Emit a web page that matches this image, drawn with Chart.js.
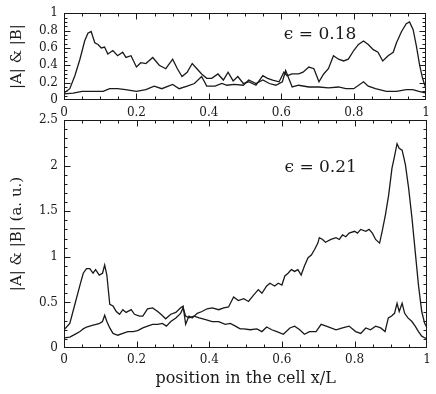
<!DOCTYPE html>
<html>
<head>
<meta charset="utf-8">
<script src="https://cdn.jsdelivr.net/npm/chart.js@4.4.1/dist/chart.umd.min.js"></script>
<style>
  html, body { margin: 0; padding: 0; background: #fff; }
  body { width: 436px; height: 394px; position: relative; overflow: hidden; }
  #wrapTop { position: absolute; left: 0; top: 0; width: 436px; height: 118px; }
  #wrapBot { position: absolute; left: 0; top: 104px; width: 436px; height: 290px; }
</style>
</head>
<body>
<div id="wrapTop"><canvas id="top"></canvas></div>
<div id="wrapBot"><canvas id="bot"></canvas></div>
<script>
// epsilon = 0.18 (upper panel)
const topAx = [0, 0.016, 0.03, 0.044, 0.057, 0.066, 0.075, 0.085, 0.094, 0.103, 0.112, 0.121, 0.135, 0.148, 0.162, 0.171, 0.185, 0.2, 0.212, 0.226, 0.245, 0.263, 0.281, 0.3, 0.313, 0.326, 0.34, 0.354, 0.367, 0.38, 0.394, 0.408, 0.425, 0.44, 0.453, 0.467, 0.48, 0.495, 0.51, 0.53, 0.549, 0.562, 0.576, 0.594, 0.607, 0.616, 0.63, 0.648, 0.66, 0.676, 0.69, 0.704, 0.717, 0.73, 0.744, 0.758, 0.772, 0.785, 0.8, 0.813, 0.827, 0.84, 0.854, 0.867, 0.88, 0.895, 0.909, 0.918, 0.932, 0.945, 0.954, 0.964, 0.973, 0.982, 0.99, 1];
const topAy = [0.08, 0.13, 0.28, 0.47, 0.68, 0.77, 0.79, 0.66, 0.64, 0.60, 0.61, 0.53, 0.57, 0.51, 0.55, 0.49, 0.51, 0.38, 0.43, 0.42, 0.49, 0.40, 0.36, 0.47, 0.36, 0.27, 0.32, 0.42, 0.36, 0.30, 0.25, 0.25, 0.30, 0.23, 0.32, 0.22, 0.27, 0.19, 0.21, 0.17, 0.28, 0.25, 0.23, 0.21, 0.32, 0.28, 0.30, 0.30, 0.32, 0.38, 0.36, 0.21, 0.30, 0.36, 0.51, 0.47, 0.45, 0.47, 0.57, 0.64, 0.68, 0.64, 0.58, 0.55, 0.45, 0.51, 0.55, 0.66, 0.79, 0.88, 0.90, 0.81, 0.62, 0.40, 0.25, 0.12];
const topBx = [0, 0.025, 0.05, 0.08, 0.108, 0.126, 0.148, 0.17, 0.2, 0.226, 0.249, 0.27, 0.3, 0.318, 0.34, 0.36, 0.38, 0.394, 0.417, 0.436, 0.45, 0.47, 0.495, 0.51, 0.53, 0.549, 0.567, 0.585, 0.603, 0.612, 0.63, 0.648, 0.676, 0.704, 0.73, 0.758, 0.778, 0.8, 0.827, 0.84, 0.86, 0.89, 0.918, 0.945, 0.963, 0.98, 1];
const topBy = [0.07, 0.08, 0.10, 0.10, 0.10, 0.13, 0.13, 0.12, 0.10, 0.12, 0.16, 0.13, 0.18, 0.13, 0.16, 0.19, 0.27, 0.16, 0.16, 0.19, 0.17, 0.18, 0.17, 0.23, 0.19, 0.23, 0.19, 0.17, 0.21, 0.34, 0.15, 0.17, 0.15, 0.15, 0.14, 0.15, 0.13, 0.13, 0.21, 0.16, 0.13, 0.10, 0.10, 0.12, 0.12, 0.10, 0.08];

// epsilon = 0.21 (lower panel)
const botAx = [0, 0.016, 0.03, 0.044, 0.053, 0.062, 0.071, 0.08, 0.087, 0.097, 0.106, 0.112, 0.118, 0.126, 0.135, 0.144, 0.153, 0.162, 0.171, 0.185, 0.194, 0.208, 0.217, 0.23, 0.244, 0.258, 0.267, 0.28, 0.294, 0.308, 0.321, 0.328, 0.335, 0.344, 0.353, 0.367, 0.38, 0.394, 0.408, 0.426, 0.44, 0.453, 0.467, 0.48, 0.495, 0.508, 0.522, 0.535, 0.545, 0.558, 0.567, 0.58, 0.59, 0.6, 0.608, 0.617, 0.626, 0.635, 0.644, 0.653, 0.662, 0.672, 0.681, 0.69, 0.699, 0.703, 0.712, 0.72, 0.735, 0.749, 0.758, 0.767, 0.776, 0.785, 0.8, 0.808, 0.817, 0.831, 0.84, 0.849, 0.858, 0.869, 0.876, 0.885, 0.894, 0.903, 0.91, 0.917, 0.923, 0.931, 0.94, 0.949, 0.958, 0.967, 0.976, 0.985, 0.993, 1];
const botAy = [0.20, 0.27, 0.48, 0.69, 0.82, 0.87, 0.87, 0.82, 0.86, 0.80, 0.82, 0.91, 0.80, 0.48, 0.46, 0.40, 0.37, 0.42, 0.39, 0.42, 0.37, 0.35, 0.35, 0.43, 0.44, 0.40, 0.37, 0.32, 0.37, 0.39, 0.44, 0.46, 0.26, 0.35, 0.33, 0.38, 0.40, 0.43, 0.44, 0.42, 0.44, 0.45, 0.56, 0.52, 0.54, 0.51, 0.58, 0.64, 0.60, 0.68, 0.71, 0.68, 0.71, 0.69, 0.79, 0.82, 0.86, 0.84, 0.86, 0.80, 0.90, 0.99, 1.02, 1.08, 1.15, 1.21, 1.19, 1.16, 1.19, 1.21, 1.19, 1.24, 1.22, 1.26, 1.28, 1.26, 1.30, 1.28, 1.30, 1.26, 1.19, 1.15, 1.28, 1.46, 1.68, 1.97, 2.10, 2.24, 2.19, 2.17, 2.01, 1.75, 1.43, 1.06, 0.69, 0.40, 0.27, 0.22];
const botBx = [0, 0.016, 0.03, 0.044, 0.053, 0.062, 0.071, 0.08, 0.089, 0.098, 0.106, 0.112, 0.118, 0.126, 0.135, 0.148, 0.162, 0.176, 0.19, 0.203, 0.217, 0.23, 0.244, 0.258, 0.271, 0.282, 0.294, 0.308, 0.321, 0.328, 0.335, 0.344, 0.358, 0.372, 0.39, 0.408, 0.426, 0.444, 0.458, 0.472, 0.485, 0.495, 0.513, 0.531, 0.545, 0.558, 0.572, 0.586, 0.604, 0.622, 0.635, 0.649, 0.662, 0.676, 0.694, 0.708, 0.722, 0.735, 0.749, 0.767, 0.785, 0.803, 0.817, 0.831, 0.844, 0.858, 0.872, 0.884, 0.893, 0.902, 0.91, 0.917, 0.923, 0.931, 0.938, 0.947, 0.958, 0.967, 0.976, 0.985, 0.994, 1];
const botBy = [0.11, 0.12, 0.15, 0.18, 0.21, 0.23, 0.24, 0.25, 0.26, 0.27, 0.29, 0.36, 0.29, 0.22, 0.16, 0.14, 0.16, 0.18, 0.18, 0.19, 0.22, 0.24, 0.26, 0.26, 0.27, 0.24, 0.29, 0.33, 0.38, 0.44, 0.35, 0.33, 0.35, 0.33, 0.31, 0.29, 0.29, 0.26, 0.27, 0.24, 0.21, 0.21, 0.20, 0.21, 0.18, 0.23, 0.20, 0.18, 0.15, 0.22, 0.24, 0.20, 0.15, 0.18, 0.18, 0.26, 0.24, 0.22, 0.20, 0.22, 0.24, 0.18, 0.16, 0.22, 0.20, 0.24, 0.22, 0.18, 0.33, 0.35, 0.38, 0.49, 0.40, 0.49, 0.38, 0.33, 0.29, 0.24, 0.18, 0.13, 0.11, 0.10];

const xTicks = [0, 0.2, 0.4, 0.6, 0.8, 1];
const topYTicks = [0, 0.2, 0.4, 0.6, 0.8, 1];
const botYTicks = [0, 0.5, 1, 1.5, 2, 2.5];

const FONT = "'DejaVu Serif', 'Liberation Serif', serif";
const INK = '#1a1a1a';

function pts(xs, ys) {
  return xs.map((x, i) => ({ x: x, y: ys[i] }));
}

function fmt(v) {
  return String(+v.toFixed(2));
}

// closed frame with inward major/minor ticks on all four sides, plus the epsilon note
function framePlugin(yMax, yMajor, yMinor, note) {
  return {
    id: 'frame_' + String(yMax).replace('.', '_'),
    afterDraw(chart) {
      const ctx = chart.ctx;
      const a = chart.chartArea;
      const sx = chart.scales.x, sy = chart.scales.y;
      const L = Math.round(a.left) + 0.5, R = Math.round(a.right) - 0.5;
      const T = Math.round(a.top) + 0.5, B = Math.round(a.bottom) - 0.5;
      ctx.save();
      ctx.strokeStyle = INK;
      ctx.lineWidth = 1;
      ctx.beginPath();
      for (let i = 1; i < 20; i++) {
        const len = i % 4 === 0 ? 6 : 3;
        const px = Math.round(sx.getPixelForValue(i * 0.05)) + 0.5;
        ctx.moveTo(px, B);
        ctx.lineTo(px, B - len);
        ctx.moveTo(px, T);
        ctx.lineTo(px, T + len);
      }
      const m = Math.round(yMax / yMinor);
      const every = Math.round(yMajor / yMinor);
      for (let i = 1; i < m; i++) {
        const len = i % every === 0 ? 6 : 3;
        const py = Math.round(sy.getPixelForValue(i * yMinor)) + 0.5;
        ctx.moveTo(L, py);
        ctx.lineTo(L + len, py);
        ctx.moveTo(R, py);
        ctx.lineTo(R - len, py);
      }
      ctx.stroke();
      ctx.strokeRect(L, T, R - L, B - T);
      ctx.fillStyle = INK;
      ctx.font = '17px ' + FONT;
      ctx.textBaseline = 'middle';
      ctx.textAlign = 'left';
      ctx.fillText(note.text, sx.getPixelForValue(note.x), sy.getPixelForValue(note.y));
      ctx.restore();
    }
  };
}

function makeChart(id, seriesA, seriesB, yMax, yTicks, yStep, yMinor, yTitle, xTitle, padTop, xHeight, xPad, note) {
  const xScale = {
    type: 'linear', min: 0, max: 1,
    grid: { display: false, drawTicks: false },
    border: { display: false },
    afterBuildTicks: s => { s.ticks = xTicks.map(v => ({ value: v })); },
    afterFit: s => { s.height = xHeight; },
    ticks: { color: INK, font: { family: FONT, size: 12 }, padding: xPad, maxRotation: 0, autoSkip: false, callback: fmt },
    title: xTitle ? { display: true, text: xTitle, color: INK, font: { family: FONT, size: 16 }, padding: { top: 0, bottom: 6 } } : { display: false }
  };
  const yScale = {
    type: 'linear', min: 0, max: yMax,
    grid: { display: false, drawTicks: false },
    border: { display: false },
    afterBuildTicks: s => { s.ticks = yTicks.map(v => ({ value: v })); },
    afterFit: s => { s.width = 64; },
    ticks: { color: INK, font: { family: FONT, size: 12 }, padding: 6, autoSkip: false, callback: fmt },
    title: { display: true, text: yTitle, color: INK, font: { family: FONT, size: 15 }, padding: { top: 8, bottom: 0 } }
  };
  const line = { borderColor: INK, borderWidth: 1.3, pointRadius: 0, tension: 0, fill: false };
  return new Chart(document.getElementById(id), {
    type: 'line',
    data: {
      datasets: [
        Object.assign({ label: 'A', data: seriesA }, line),
        Object.assign({ label: 'B', data: seriesB }, line)
      ]
    },
    options: {
      responsive: true,
      maintainAspectRatio: false,
      animation: false,
      parsing: false,
      layout: { padding: { top: padTop, right: 6, left: 0, bottom: 0 } },
      plugins: {
        legend: { display: false },
        tooltip: { enabled: false }
      },
      scales: { x: xScale, y: yScale }
    },
    plugins: [framePlugin(yMax, yStep, yMinor, note)]
  });
}

makeChart('top', pts(topAx, topAy), pts(topBx, topBy), 1, topYTicks, 0.2, 0.05,
  '|A| & |B|', null, 11, 18, 6, { text: 'ϵ = 0.18', x: 0.607, y: 0.75 });
makeChart('bot', pts(botAx, botAy), pts(botBx, botBy), 2.5, botYTicks, 0.5, 0.1,
  '|A| & |B| (a. u.)', 'position in the cell x/L', 16, 46, 5, { text: 'ϵ = 0.21', x: 0.607, y: 1.98 });
</script>
</body>
</html>
